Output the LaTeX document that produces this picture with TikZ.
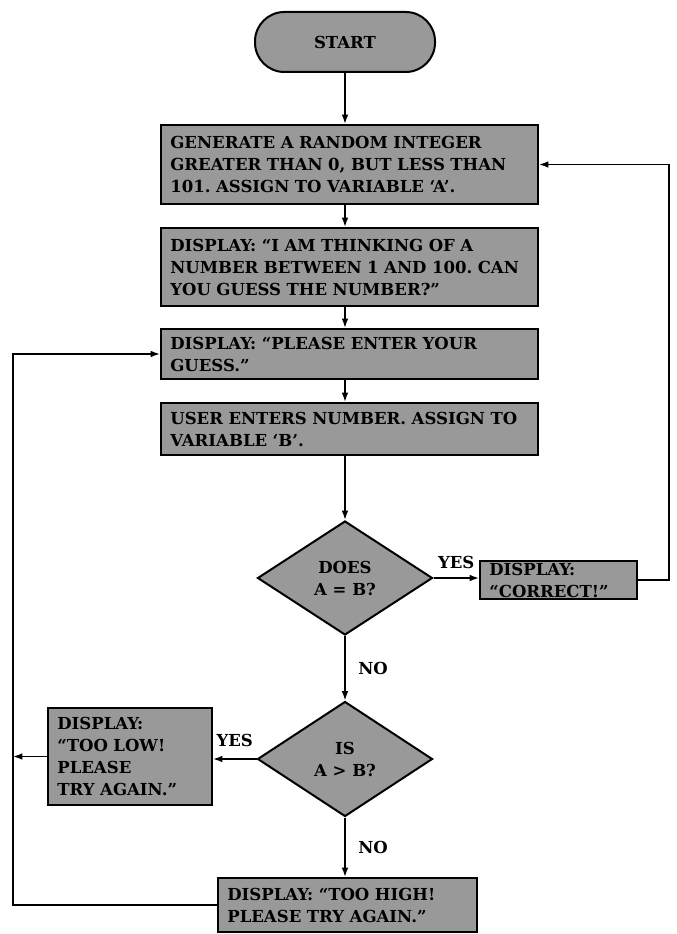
\documentclass[tikz,border=0pt]{standalone}
\usepackage{fontspec}
\setmainfont{DejaVu Serif}
\frenchspacing
\usepackage{tikz}
\usetikzlibrary{shapes.geometric,arrows.meta}

\definecolor{boxgray}{gray}{0.6}
\tikzset{
  >={Latex[length=7pt,width=5pt]},
  flow/.style={line width=1.2pt},
  procbox/.style={draw, fill=boxgray, line width=1.5pt, align=left,
    inner xsep=7pt, inner ysep=2pt, font=\bfseries\fontsize{12.4}{16.5}\selectfont},
  decision/.style={draw, diamond, fill=boxgray, line width=1.5pt, align=center,
    inner sep=0pt, font=\bfseries\fontsize{12.4}{16.5}\selectfont},
  terminal/.style={draw, fill=boxgray, line width=1.5pt, rounded corners=22pt,
    font=\bfseries\fontsize{12.4}{16.5}\selectfont},
  answer/.style={font=\bfseries\fontsize{12.4}{16.5}\selectfont}
}

\begin{document}
\begin{tikzpicture}[x=0.75pt,y=-0.75pt]
   \useasboundingbox (0,0) rectangle (677,934);
   \node[terminal,minimum width=135pt,minimum height=45pt] (start) at (345,42) {START};
   \node[procbox,text width=268.75pt,minimum height=59.25pt] (gen) at (349.5,164.5)
     {GENERATE A RANDOM INTEGER\\GREATER THAN 0, BUT LESS THAN\\101. ASSIGN TO VARIABLE ‘A’.};
   \node[procbox,text width=268.75pt,minimum height=58.5pt] (think) at (349.5,267)
     {DISPLAY: “I AM THINKING OF A\\NUMBER BETWEEN 1 AND 100. CAN\\YOU GUESS THE NUMBER?”};
   \node[procbox,text width=268.75pt,minimum height=37.5pt] (guess) at (349.5,354)
     {DISPLAY: “PLEASE ENTER YOUR\\GUESS.”};
   \node[procbox,text width=268.75pt,minimum height=39pt] (user) at (349.5,429)
     {USER ENTERS NUMBER. ASSIGN TO\\VARIABLE ‘B’.};
   \node[decision,minimum width=131.25pt,minimum height=85.5pt] (equal) at (345,578)
     {DOES\\A = B?};
   \node[procbox,text width=103.75pt,minimum height=28.5pt,inner ysep=0pt] (correct) at (558.5,580)
     {DISPLAY:\\“CORRECT!”};
   \node[decision,minimum width=131.25pt,minimum height=86.25pt] (bigger) at (345,759)
     {IS\\A > B?};
   \node[procbox,text width=109pt,minimum height=72.75pt] (low) at (130,756.5)
     {DISPLAY:\\“TOO LOW!\\PLEASE\\TRY AGAIN.”};
   \node[procbox,text width=180.25pt,minimum height=40.5pt] (high) at (347.5,905)
     {DISPLAY: “TOO HIGH!\\PLEASE TRY AGAIN.”};
   \coordinate (lx) at (13,0);

   \draw[flow,->] (start) -- (start |- gen.north);
   \draw[flow,->] (start |- gen.south) -- (start |- think.north);
   \draw[flow,->] (start |- think.south) -- (start |- guess.north);
   \draw[flow,->] (start |- guess.south) -- (start |- user.north);
   \draw[flow,->] (start |- user.south) -- (equal.north);
   \draw[flow,->] (equal.east) -- (equal.east -| correct.west) node[answer,midway,above=3pt] {YES};
   \draw[flow,->] (equal.south) -- (bigger.north) node[answer,midway,right=6pt] {NO};
   \draw[flow,->] (bigger.west) -- (bigger.west -| low.east) node[answer,midway,above=5pt] {YES};
   \draw[flow,->] (bigger.south) -- (bigger.south |- high.north) node[answer,midway,right=6pt] {NO};
   \draw[flow,->] (correct.east) -- ++(31,0) |- (gen.east);
   \draw[flow,->] (low.west) -- (low.west -| lx);
   \draw[flow,->] (high.west) -| (lx |- guess.west) -- (guess.west);
  \end{tikzpicture}
\end{document}
